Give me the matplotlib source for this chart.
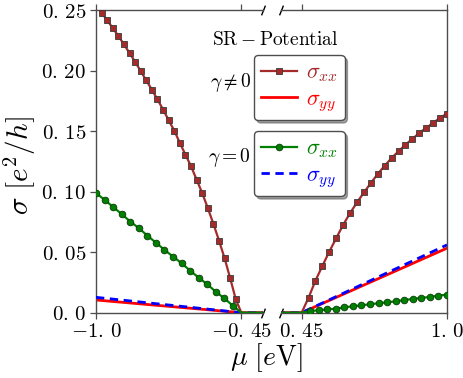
import numpy as np
import matplotlib
matplotlib.use("Agg")
import matplotlib.pyplot as plt
from matplotlib.lines import Line2D

plt.rcParams['mathtext.fontset'] = 'cm'
plt.rcParams['font.family'] = ['DejaVu Serif']

# ---- data ----
mu_sq_left = np.linspace(-1.0, -0.45, 27)
sxx_gam_left = [0.2540, 0.2478, 0.2415, 0.2351, 0.2285, 0.2216, 0.2144, 0.2073, 0.1995,
                0.1918, 0.1841, 0.1761, 0.1678, 0.1589, 0.1504, 0.1402, 0.1305, 0.1209,
                0.1099, 0.0988, 0.0864, 0.0734, 0.0596, 0.0450, 0.0285, 0.0111, 0.0]
mu_sq_right = np.linspace(0.45, 1.0, 22)
sxx_gam_right = [0.0, 0.0124, 0.0265, 0.0387, 0.0505, 0.0616, 0.0726, 0.0823, 0.0911,
                 0.0993, 0.1071, 0.1146, 0.1214, 0.1278, 0.1333, 0.1388, 0.1435, 0.1485,
                 0.1526, 0.1568, 0.1609, 0.1645]

mu_ci_left = np.linspace(-1.0, -0.45, 18)
sxx_nogam_left = [0.0988, 0.0933, 0.0873, 0.0815, 0.0753, 0.0699, 0.0637, 0.0579, 0.0519,
                  0.0464, 0.0409, 0.0348, 0.0290, 0.0235, 0.0174, 0.0119, 0.0058, 0.0]
mu_ci_right = np.linspace(0.45, 1.0, 18)
sxx_nogam_right = [0.0, 0.0014, 0.0020, 0.0028, 0.0033, 0.0045, 0.0053, 0.0061, 0.0070,
                   0.0078, 0.0086, 0.0094, 0.0105, 0.0113, 0.0122, 0.0130, 0.0141, 0.0149]

mu_lin = [-1.0, -0.45, 0.45, 1.0]
syy_gam = [0.0105, 0.0, 0.0, 0.0533]
syy_nogam = [0.0127, 0.0, 0.0, 0.0560]

yticks = [0.0, 0.05, 0.10, 0.15, 0.20, 0.25]
ytick_labels = ['0.0', '0.05', '0.10', '0.15', '0.20', '0.25']
xticks_left = [-1.0, -0.45]
xticks_right = [0.45, 1.0]
xlabels_left = ['-1.0', '-0.45']
xlabels_right = ['0.45', '1.0']

# full series (sigma = 0 inside the gap)
mu_sq = np.concatenate([mu_sq_left, [0.0], mu_sq_right])
sxx_gam = np.concatenate([sxx_gam_left, [0.0], sxx_gam_right])
mu_ci = np.concatenate([mu_ci_left, [0.0], mu_ci_right])
sxx_nogam = np.concatenate([sxx_nogam_left, [0.0], sxx_nogam_right])


def tex(s):
    return '$' + s.replace('.', r'.\,') + '$'


W, H = 463, 378
fig = plt.figure(figsize=(W / 100, H / 100), dpi=100)
axw = 166.5 / W
axb = 65.3 / H
axh = 302.7 / H
axL = fig.add_axes([96 / W, axb, axw, axh])
axR = fig.add_axes([(96 + 166.5 + 18) / W, axb, axw, axh])

brown = '#a52a2a'
gcol = '#008000'
spc = '0.3'

for ax in (axL, axR):
    ax.plot(mu_lin, syy_gam, color='red', lw=2.0, zorder=2)
    ax.plot(mu_lin, syy_nogam, color='blue', lw=2.0, ls=(0, (3, 2)), zorder=3)
    ax.plot(mu_sq, sxx_gam, color=brown, lw=1.6, marker='s', ms=4.6,
            mfc=brown, mec='#3a3a3a', mew=0.6, markevery=list(sxx_gam > 0), zorder=4)
    ax.plot(mu_ci, sxx_nogam, color=gcol, lw=1.6, marker='o', ms=4.8,
            mfc=gcol, mec='#0a3a0a', mew=0.6, markevery=list(sxx_nogam > 0), zorder=5)
    ax.set_ylim(0, 0.25)
    for s in ax.spines.values():
        s.set_color(spc)
        s.set_linewidth(1.0)
    ax.tick_params(direction='out', length=4.5, width=0.9, color=spc,
                   top=True, labelsize=15, pad=2.5)

axL.set_xlim(-1.0, -0.37)
axR.set_xlim(0.37, 1.0)
axL.spines['right'].set_visible(False)
axR.spines['left'].set_visible(False)
axR.tick_params(left=False, labelleft=False)

axL.set_xticks(xticks_left)
axL.set_xticklabels([tex(t) for t in xlabels_left])
axR.set_xticks(xticks_right)
axR.set_xticklabels([tex(t) for t in xlabels_right])
axL.set_yticks(yticks)
axL.set_yticklabels([tex(t) for t in ytick_labels])

# break marks
d = 0.4
kw = dict(marker=[(-d, -1), (d, 1)], markersize=7, linestyle='none',
          color='k', mec='k', mew=1.0, clip_on=False)
axL.plot([1, 1], [0, 1], transform=axL.transAxes, **kw)
axR.plot([0, 0], [0, 1], transform=axR.transAxes, **kw)

# labels
fig.text(20 / W, 1 - 166 / H, r'$\sigma\ [e^2/h]$', fontsize=21, rotation=90,
         ha='center', va='center')
fig.text(266 / W, 1 - 358 / H, r'$\mu\ [e\mathrm{V}]$', fontsize=20,
         ha='center', va='center')
fig.text(275 / W, 1 - 40 / H, r'$\mathrm{SR-Potential}$', fontsize=14,
         ha='center', va='center')
fig.text(251 / W, 1 - 82 / H, r'$\gamma \neq 0$', fontsize=14, ha='right', va='center')
fig.text(251 / W, 1 - 158 / H, r'$\gamma = 0$', fontsize=14, ha='right', va='center')

h1 = [Line2D([], [], color=brown, lw=1.6, marker='s', ms=4.6, mfc=brown, mec='#3a3a3a', mew=0.6),
      Line2D([], [], color='red', lw=2.0)]
h2 = [Line2D([], [], color=gcol, lw=1.6, marker='o', ms=4.8, mfc=gcol, mec='#0a3a0a', mew=0.6),
      Line2D([], [], color='blue', lw=2.0, ls=(0, (3, 2)))]
lab = [r'$\sigma_{xx}$', r'$\sigma_{yy}$']

legkw = dict(loc='upper left', fontsize=16, frameon=True, fancybox=True, shadow=True,
             framealpha=1, edgecolor='0.3', handlelength=1.65, handletextpad=0.4,
             borderpad=0.3, labelspacing=0.15, borderaxespad=0)
leg1 = fig.legend(h1, lab, bbox_to_anchor=(254 / W, 1 - 55 / H), **legkw)
for t, c in zip(leg1.get_texts(), [brown, 'red']):
    t.set_color(c)
leg2 = fig.legend(h2, lab, bbox_to_anchor=(254 / W, 1 - 131 / H), **legkw)
for t, c in zip(leg2.get_texts(), [gcol, 'blue']):
    t.set_color(c)

fig.savefig('out.png', dpi=100)
